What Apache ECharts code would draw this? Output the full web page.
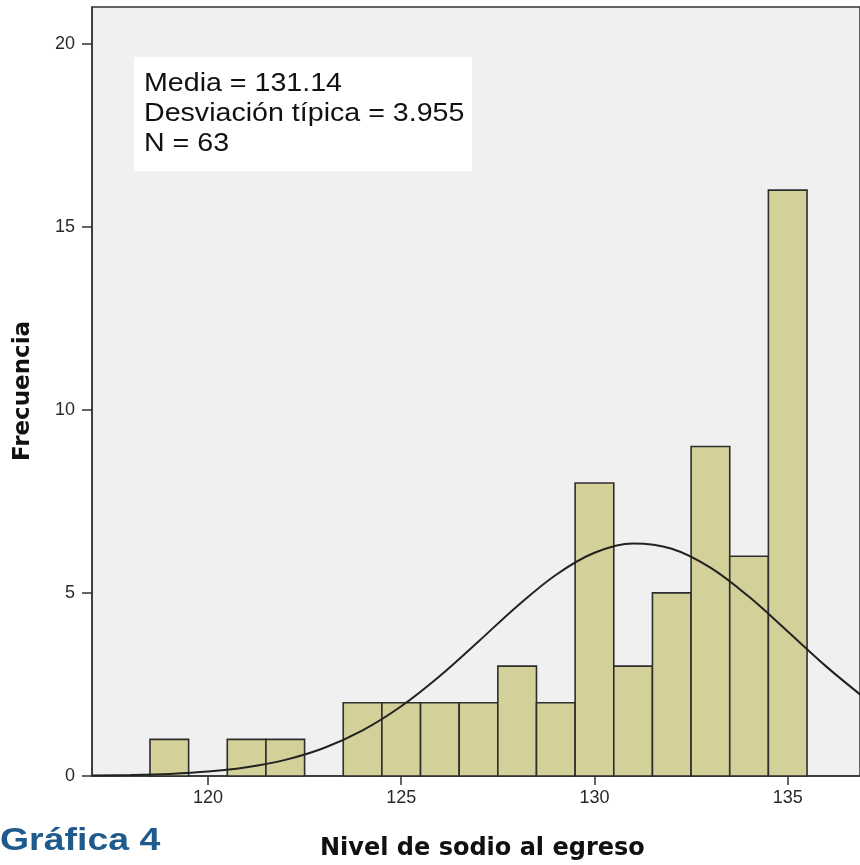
<!DOCTYPE html>
<html>
<head>
<meta charset="utf-8">
<script src="https://cdn.jsdelivr.net/npm/echarts@6/dist/echarts.min.js"></script>
<style>
html,body{margin:0;padding:0;background:#fff;}
#chart{width:860px;height:865px;}
</style>
</head>
<body>
<div id="chart"></div>
<script>
// Histogram bins (centre of each 1-unit bin) and frequencies
const binCenters = [119, 121, 122, 124, 125, 126, 127, 128, 129, 130, 131, 132, 133, 134, 135];
const frequencies = [1, 1, 1, 2, 2, 2, 2, 3, 2, 8, 3, 5, 9, 6, 16];
// Normal curve overlay
const curveX = [117, 118, 119, 120, 121, 122, 123, 124, 125, 126, 127, 128, 129, 130, 131, 132, 133, 134, 135, 136, 137];
const curveY = [0.011, 0.026, 0.057, 0.12, 0.238, 0.44, 0.765, 1.246, 1.905, 2.731, 3.674, 4.637, 5.49, 6.096, 6.351, 6.206, 5.69, 4.893, 3.947, 2.987, 2.12];
const xTicks = [120, 125, 130, 135];
const yTicks = [0, 5, 10, 15, 20];
const statsLines = ['Media = 131.14', 'Desviación típica = 3.955', 'N = 63'];

const chart = echarts.init(document.getElementById('chart'));
const font = 'Liberation Sans, Arial, sans-serif';
const boldFont = 'DejaVu Sans, Verdana, sans-serif';

chart.setOption({
  animation: false,
  backgroundColor: '#ffffff',
  grid: {
    left: 92, top: 7, right: -3, bottom: 89,
    show: true, backgroundColor: '#f0f0f0', borderColor: '#333', borderWidth: 1.5
  },
  xAxis: {
    type: 'value', min: 117, max: 136.87,
    axisLine: { show: true, lineStyle: { color: '#333', width: 1.5 } },
    axisTick: { show: true, length: 9, lineStyle: { color: '#333', width: 1.5 },
      customValues: xTicks },
    axisLabel: { color: '#2a2a2a', fontSize: 18, fontFamily: font, margin: 13,
      customValues: xTicks },
    splitLine: { show: false }
  },
  yAxis: {
    type: 'value', min: 0, max: 21,
    axisLine: { show: true, lineStyle: { color: '#333', width: 1.5 } },
    axisTick: { show: true, length: 10, lineStyle: { color: '#333', width: 1.5 },
      customValues: yTicks },
    axisLabel: { color: '#2a2a2a', fontSize: 18, fontFamily: font, margin: 17,
      customValues: yTicks },
    splitLine: { show: false }
  },
  series: [
    {
      type: 'custom',
      data: binCenters.map((c, i) => [c, frequencies[i]]),
      renderItem: function (params, api) {
        const c = api.value(0), f = api.value(1);
        const p1 = api.coord([c - 0.5, f]);
        const p2 = api.coord([c + 0.5, 0]);
        return {
          type: 'rect',
          shape: { x: p1[0], y: p1[1], width: p2[0] - p1[0], height: p2[1] - p1[1] },
          style: { fill: '#d4d09a', stroke: '#2e2e2e', lineWidth: 1.6 }
        };
      },
      z: 2
    },
    {
      type: 'line',
      data: curveX.map((x, i) => [x, curveY[i]]),
      smooth: 0.35,
      showSymbol: false,
      lineStyle: { color: '#222', width: 2 },
      clip: true,
      z: 3
    }
  ],
  graphic: [
    {
      type: 'rect', left: 134, top: 57, z: 10,
      shape: { width: 338, height: 114 },
      style: { fill: '#ffffff' }
    },
    {
      type: 'text', x: 144, y: 69, z: 11, scaleX: 1.1,
      style: { text: statsLines.join('\n'), font: '26px ' + font, fill: '#111', lineHeight: 30 }
    },
    {
      type: 'text', x: 0, y: 825, z: 11, scaleX: 1.17,
      style: { text: 'Gráfica 4', font: 'bold 32px ' + font, fill: '#1f5a8c' }
    },
    {
      type: 'text', x: 320, y: 837, z: 11,
      style: { text: 'Nivel de sodio al egreso', font: 'bold 24px ' + boldFont, fill: '#111' }
    },
    {
      type: 'text', z: 11, x: 23, y: 391, rotation: Math.PI / 2,
      style: { text: 'Frecuencia', font: 'bold 23px ' + boldFont, fill: '#111',
        align: 'center', verticalAlign: 'middle' }
    }
  ]
});
</script>
</body>
</html>
